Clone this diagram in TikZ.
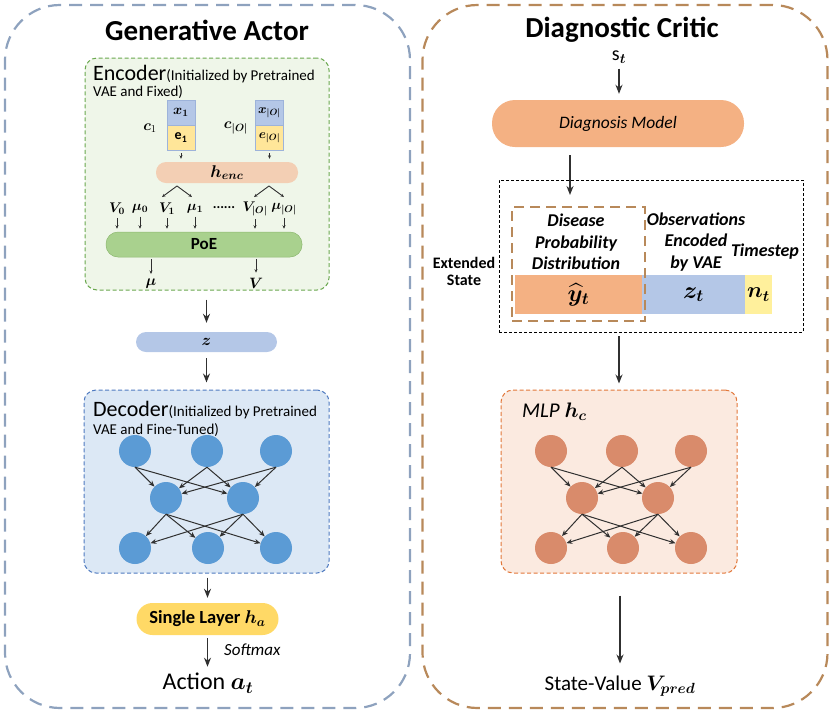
\RequirePackage{fix-cm}
\documentclass[tikz,border=0pt]{standalone}
\usepackage{amsmath}
\usepackage{bm}
\usepackage{fontspec}
\setmainfont{Carlito}
\usetikzlibrary{arrows.meta,calc}
\definecolor{actorc}{HTML}{8EA2BE}
\definecolor{criticc}{HTML}{B8895A}
\definecolor{encfill}{HTML}{EFF6E9}
\definecolor{encdraw}{HTML}{6AA84F}
\definecolor{decfill}{HTML}{DCE8F5}
\definecolor{decdraw}{HTML}{4F7AC0}
\definecolor{mlpfill}{HTML}{FBEAE0}
\definecolor{mlpdraw}{HTML}{E2773A}
\definecolor{nblue}{HTML}{5B9BD5}
\definecolor{norange}{HTML}{D98B6B}
\definecolor{zc}{HTML}{B4C7E7}
\definecolor{zdraw}{HTML}{9DB3DA}
\definecolor{hencc}{HTML}{F3CFB4}
\definecolor{poec}{HTML}{A9D18E}
\definecolor{poedraw}{HTML}{8DB870}
\definecolor{slc}{HTML}{FFD966}
\definecolor{dmc}{HTML}{F4B183}
\definecolor{ec}{HTML}{FFE699}
\definecolor{ntc}{HTML}{FFF09C}
\definecolor{arrc}{HTML}{303030}
\tikzset{
  outerbox/.style={draw, line width=2.2pt, dash pattern=on 13pt off 8pt, rounded corners=55pt, inner sep=0},
  innerbox/.style={draw, line width=1pt, dash pattern=on 4pt off 2.5pt, rounded corners=12pt, inner sep=0},
  pill/.style={inner sep=0},
  cell/.style={draw=zdraw, line width=0.6pt, minimum width=28pt, minimum height=25pt, inner sep=0},
  bar/.style={inner sep=0, minimum height=39pt},
  arr/.style={draw=arrc, line width=1.5pt, -{Stealth[length=9pt,width=7pt]}},
  sarr/.style={draw=arrc, line width=0.6pt, -{Stealth[length=3.5pt,width=3pt]}},
  narr/.style={draw=arrc, line width=1pt, -{Stealth[length=6pt,width=5pt]}},
  neuronb/.style={circle, fill=nblue, minimum size=32pt, inner sep=0},
  neurono/.style={circle, fill=norange, minimum size=32pt, inner sep=0},
  lbl/.style={inner sep=0, font=\fontsize{14}{16}\selectfont},
  bitext/.style={inner sep=0, align=center, font=\fontsize{18}{21.5}\selectfont\bfseries\itshape},
}
\begin{document}
\begin{tikzpicture}[x=1pt,y=-1pt]
\useasboundingbox (0,0) rectangle (831,713);

% ---------- outer boxes ----------
\node[outerbox, draw=actorc, minimum width=405pt, minimum height=703pt] (actor) at (207.5,356.5) {};
\node[outerbox, draw=criticc, minimum width=405pt, minimum height=703pt] (critic) at (625,356.5) {};
\node[inner sep=0, font=\fontsize{29}{31}\selectfont\bfseries] (actortitle) at (207,30) {Generative Actor};
\node[inner sep=0, font=\fontsize{29}{31}\selectfont\bfseries] (critictitle) at (622,30) {Diagnostic Critic};

% ---------- encoder ----------
\node[innerbox, draw=encdraw, fill=encfill, minimum width=244pt, minimum height=232pt] (enc) at (207,174) {};
\node[anchor=base west, inner sep=0] (enctitle) at (93,80) {\fontsize{22}{24}\selectfont Encoder\fontsize{15}{17}\selectfont(Initialized by Pretrained};
\node[anchor=west, inner sep=0, font=\fontsize{15}{17}\selectfont] (enctitle2) at (93,92) {VAE and Fixed)};

\node[cell, fill=zc] (x1) at (181,112.5) {\fontsize{14}{16}\selectfont$\bm{x_1}$};
\node[cell, fill=ec] (e1) at (181,137.5) {\fontsize{14}{16}\selectfont$\mathbf{e_1}$};
\node[cell, fill=zc] (xo) at (269.5,112.5) {\fontsize{13}{15}\selectfont$\bm{x_{|O|}}$};
\node[cell, fill=ec] (eo) at (269.5,137.5) {\fontsize{13}{15}\selectfont$\bm{e_{|O|}}$};
\node[lbl, font=\fontsize{15}{17}\selectfont] (c1) at (150,128) {$\bm{c}_1$};
\node[lbl, font=\fontsize{15}{17}\selectfont] (co) at (236,128) {$\bm{c_{|O|}}$};

\node[pill, fill=hencc, minimum width=142pt, minimum height=21pt, rounded corners=10pt] (henc) at (227,172.5) {\fontsize{17}{19}\selectfont$\bm{h_{enc}}$};
\draw[sarr, shorten <=3pt, shorten >=3pt] (e1.south) -- (e1.south |- henc.north);
\draw[sarr, shorten <=3pt, shorten >=3pt] (eo.south) -- (eo.south |- henc.north);

\coordinate (br1) at (177,186);
\coordinate (br1l) at (162,197);
\coordinate (br1r) at (192,197);
\coordinate (br2) at (269,186);
\coordinate (br2l) at (254,197);
\coordinate (br2r) at (284,197);
\draw[sarr, line width=0.9pt] (br1) -- (br1l);
\draw[sarr, line width=0.9pt] (br1) -- (br1r);
\draw[sarr, line width=0.9pt] (br2) -- (br2l);
\draw[sarr, line width=0.9pt] (br2) -- (br2r);

\node[lbl] (lv0) at (117,209) {$\bm{V_0}$};
\node[lbl] (lm0) at (140,209) {$\bm{\mu_0}$};
\node[lbl] (lv1) at (167,209) {$\bm{V_1}$};
\node[lbl] (lm1) at (195,209) {$\bm{\mu_1}$};
\node[lbl] (ldots) at (224,208) {\bfseries ......};
\node[lbl] (lvo) at (255,209) {$\bm{V_{|O|}}$};
\node[lbl] (lmo) at (284,209) {$\bm{\mu_{|O|}}$};

\node[pill, fill=poec, draw=poedraw, line width=0.5pt, minimum width=196pt, minimum height=25pt, rounded corners=12pt] (poe) at (204,244.5) {\fontsize{17}{19}\selectfont\bfseries PoE};
\foreach \n in {lv0,lm0,lv1,lm1,lvo,lmo}
  \draw[sarr, shorten <=3pt, shorten >=3pt] (\n.south) -- (\n.south |- poe.north);

\node[lbl, font=\fontsize{15}{17}\selectfont] (mu) at (151,284) {$\bm{\mu}$};
\node[lbl, font=\fontsize{15}{17}\selectfont] (vv) at (256,283) {$\bm{V}$};
\draw[sarr, shorten <=2pt, shorten >=5pt] (poe.south -| mu) -- (mu.north);
\draw[sarr, shorten <=2pt, shorten >=5pt] (poe.south -| vv) -- (vv.north);

% ---------- z ----------
\node[pill, fill=zc, minimum width=141pt, minimum height=20pt, rounded corners=10pt] (z) at (206.5,342) {\fontsize{16}{18}\selectfont$\bm{z}$};
\draw[arr, shorten <=9pt, shorten >=9pt] (enc.south -| z) -- (z.north);

% ---------- decoder ----------
\node[innerbox, draw=decdraw, fill=decfill, minimum width=245pt, minimum height=183pt] (dec) at (206.5,481.5) {};
\draw[arr, shorten <=6pt, shorten >=7pt] (z.south) -- (z.south |- dec.north);
\node[anchor=base west, inner sep=0] (dectitle) at (93,416) {\fontsize{22}{24}\selectfont Decoder\fontsize{15}{17}\selectfont(Initialized by Pretrained};
\node[anchor=west, inner sep=0, font=\fontsize{15}{17}\selectfont] (dectitle2) at (93,430) {VAE and Fine-Tuned)};

\node[neuronb] (d1) at (135,451) {};
\node[neuronb] (d2) at (207,451) {};
\node[neuronb] (d3) at (276,451) {};
\node[neuronb] (d4) at (166,498) {};
\node[neuronb] (d5) at (243,498) {};
\node[neuronb] (d6) at (135,548) {};
\node[neuronb] (d7) at (208,548) {};
\node[neuronb] (d8) at (276,548) {};
\foreach \u in {d1,d2,d3}
  \foreach \m in {d4,d5}
    \draw[narr] (\u.south) -- (\m);
\foreach \m in {d4,d5}
  \foreach \b in {d6,d7,d8}
    \draw[narr] (\m.south) -- (\b);

% ---------- single layer ----------
\node[pill, fill=slc, minimum width=142pt, minimum height=32pt, rounded corners=16pt] (sl) at (207.5,619) {\fontsize{18.5}{20}\selectfont\bfseries Single Layer $\bm{h_a}$};
\draw[arr, shorten <=4pt, shorten >=5pt] (dec.south -| sl) -- (sl.north);
\node[inner sep=0] (action) at (208,683) {\fontsize{24}{26}\selectfont Action $\bm{a_t}$};
\draw[arr, shorten <=3pt, shorten >=6pt] (sl.south) -- (sl.south |- action.north);
\node[anchor=west, inner sep=0, font=\fontsize{17}{19}\selectfont\itshape] (softmax) at (224,650) {Softmax};

% ---------- critic ----------
\node[inner sep=0] (st) at (619,57) {\fontsize{20}{22}\selectfont$\mathrm{s}_{\bm{t}}$};
\node[pill, fill=dmc, minimum width=252pt, minimum height=47pt, rounded corners=23pt] (dm) at (618,123.5) {\fontsize{17.5}{19}\selectfont\itshape Diagnosis Model};
\draw[arr, shorten <=5pt, shorten >=6pt] (st.south) -- (st.south |- dm.north);

\node[draw=black, line width=0.9pt, dash pattern=on 3pt off 2pt, inner sep=0, minimum width=304pt, minimum height=152pt] (ext) at (651,256) {};
\node[bar, fill=dmc, minimum width=127pt] (yhat) at (578.5,294.5) {\fontsize{24}{26}\selectfont$\bm{\widehat{y}_t}$};
\node[bar, fill=zc, minimum width=103pt] (zt) at (693.5,294.5) {\fontsize{24}{26}\selectfont$\bm{z_t}$};
\node[bar, fill=ntc, minimum width=27pt] (nt) at (758.5,294.5) {\fontsize{22}{24}\selectfont$\bm{n_t}$};
\node[draw=criticc, line width=2pt, dash pattern=on 10pt off 6pt, inner sep=0, minimum width=133pt, minimum height=114pt] (pbox) at (578.5,264) {};

\coordinate (dmout) at ([xshift=-48pt]dm.south);
\draw[arr, shorten <=8pt, shorten >=11pt] (dmout) -- (dmout |- pbox.north);

\node[bitext] (dis) at (576,242) {Disease\\Probability\\Distribution};
\node[bitext] (obs) at (696,242) {Observations\\Encoded\\by VAE};
\node[bitext] (ts) at (765,252) {Timestep};
\node[inner sep=0, align=center, font=\fontsize{16}{17}\selectfont\bfseries] (es) at (464,271) {Extended\\State};

% ---------- MLP ----------
\node[innerbox, draw=mlpdraw, fill=mlpfill, minimum width=236pt, minimum height=183pt] (mlp) at (619,481.5) {};
\draw[arr, shorten <=4pt, shorten >=6pt] (ext.south -| mlp) -- (mlp.north);
\node[anchor=west, inner sep=0] (mlptitle) at (522,412) {\fontsize{21}{23}\selectfont\itshape MLP $\bm{h_c}$};

\node[neurono] (m1) at (551,451) {};
\node[neurono] (m2) at (622,451) {};
\node[neurono] (m3) at (691,451) {};
\node[neurono] (m4) at (582,498) {};
\node[neurono] (m5) at (658,498) {};
\node[neurono] (m6) at (551,548) {};
\node[neurono] (m7) at (623,548) {};
\node[neurono] (m8) at (691,548) {};
\foreach \u in {m1,m2,m3}
  \foreach \m in {m4,m5}
    \draw[narr] (\u.south) -- (\m);
\foreach \m in {m4,m5}
  \foreach \b in {m6,m7,m8}
    \draw[narr] (\m.south) -- (\b);

\node[inner sep=0] (sv) at (620,686) {\fontsize{21}{23}\selectfont State-Value $\bm{V_{pred}}$};
\draw[arr, shorten <=22pt, shorten >=12pt] (mlp.south -| sv) -- (sv.north);
\end{tikzpicture}
\end{document}
